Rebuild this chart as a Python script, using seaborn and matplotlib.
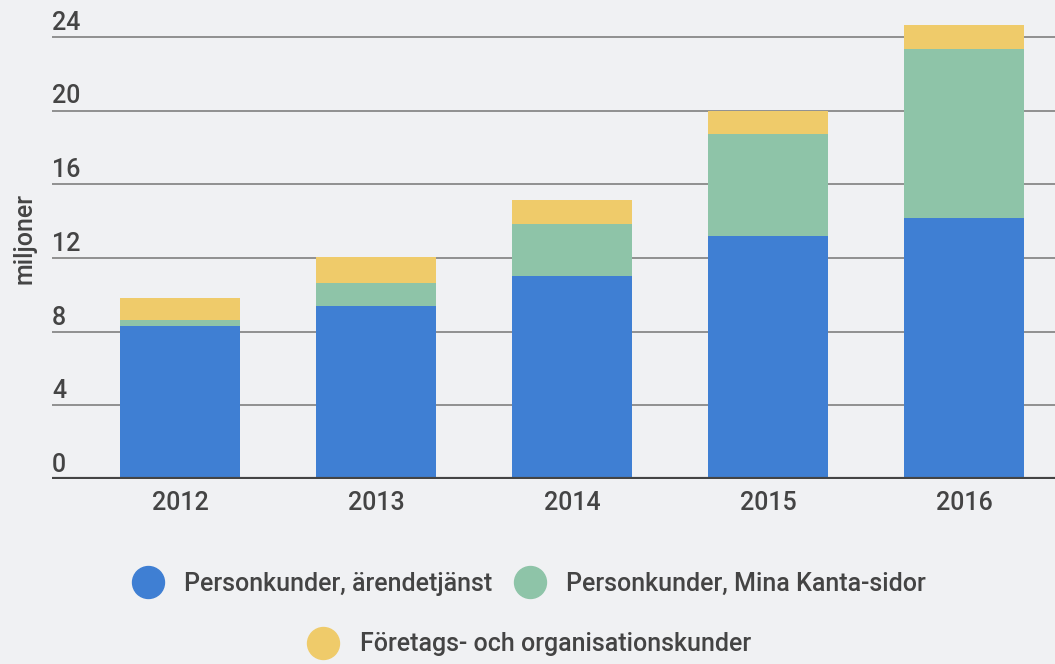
import matplotlib
matplotlib.use("Agg")
import matplotlib.pyplot as plt
import seaborn as sns
import pandas as pd
import numpy as np
from matplotlib.lines import Line2D

years = ["2012", "2013", "2014", "2015", "2016"]
personkunder_arende = [8.32, 9.40, 11.03, 13.21, 14.18]
personkunder_mina = [0.32, 1.25, 2.83, 5.54, 9.14]
foretag = [1.20, 1.42, 1.30, 1.25, 1.30]
series_names = ["Personkunder, ärendetjänst", "Personkunder, Mina Kanta-sidor",
                "Företags- och organisationskunder"]
yticks = [0, 4, 8, 12, 16, 20, 24]

colors = ["#3f7fd3", "#8ec4a8", "#efcb6a"]
bg = "#f0f1f3"
txt = "#444444"
FS = 18
FW = 500

sns.set_theme(style="white")
plt.rcParams["font.family"] = ["Roboto", "DejaVu Sans"]
plt.rcParams["font.weight"] = FW

df = pd.DataFrame({"year": years,
                   "a": personkunder_arende,
                   "b": personkunder_mina,
                   "c": foretag})
df["ab"] = df["a"] + df["b"]
df["abc"] = df["ab"] + df["c"]

fig = plt.figure(figsize=(10.55, 6.64), dpi=100, facecolor=bg)
ax = fig.add_axes([52/1055, 1 - 479/664, 1 - 52/1055, 479/664])
ax.set_facecolor(bg)

for col, c in zip(["abc", "ab", "a"], [colors[2], colors[1], colors[0]]):
    sns.barplot(data=df, x="year", y=col, color=c, width=0.612, ax=ax,
                saturation=1, zorder=3, linewidth=0, edgecolor=c)

ax.set_xlim(-0.653, 4.464)
ax.set_ylim(0, 26)
for s in ax.spines.values():
    s.set_visible(False)
ax.set_yticks(yticks)
ax.set_yticklabels([])
ax.tick_params(axis="y", length=0)
ax.grid(axis="y", color="#888888", linewidth=1.3, zorder=1)
ax.set_axisbelow(True)
ax.axhline(0, color="#444444", linewidth=3, zorder=4)
for t in yticks:
    ax.annotate(str(t), xy=(0, t), xycoords=ax.get_yaxis_transform(),
                xytext=(0, 1.5), textcoords="offset points",
                ha="left", va="bottom", fontsize=FS, color=txt, fontweight=FW)
ax.tick_params(axis="x", length=0, pad=9, labelsize=FS, labelcolor=txt)
for lab in ax.get_xticklabels():
    lab.set_fontweight(FW)
ax.set_xlabel("")
ax.set_ylabel("")
fig.text(25/1055, 1 - 238.5/664, "miljoner", rotation=90, ha="center", va="center",
         fontsize=FS, color=txt, fontweight=FW)

def handle(c):
    return Line2D([], [], marker="o", linestyle="", markersize=23,
                  markerfacecolor=c, markeredgecolor=c)

common = dict(frameon=False, handletextpad=0.8, handlelength=1.3,
              labelcolor=txt, borderpad=0, borderaxespad=0,
              prop={"size": FS, "weight": FW, "family": ["Roboto", "DejaVu Sans"]})
leg1 = fig.legend([handle(colors[0]), handle(colors[1])], series_names[:2],
                  loc="center", bbox_to_anchor=(529/1055, 1 - 583.7/664), ncol=2,
                  columnspacing=0.84, **common)
leg2 = fig.legend([handle(colors[2])], series_names[2:],
                  loc="center", bbox_to_anchor=(529/1055, 1 - 644.5/664), ncol=1,
                  **common)

fig.savefig("out.png", dpi=100, facecolor=bg)
